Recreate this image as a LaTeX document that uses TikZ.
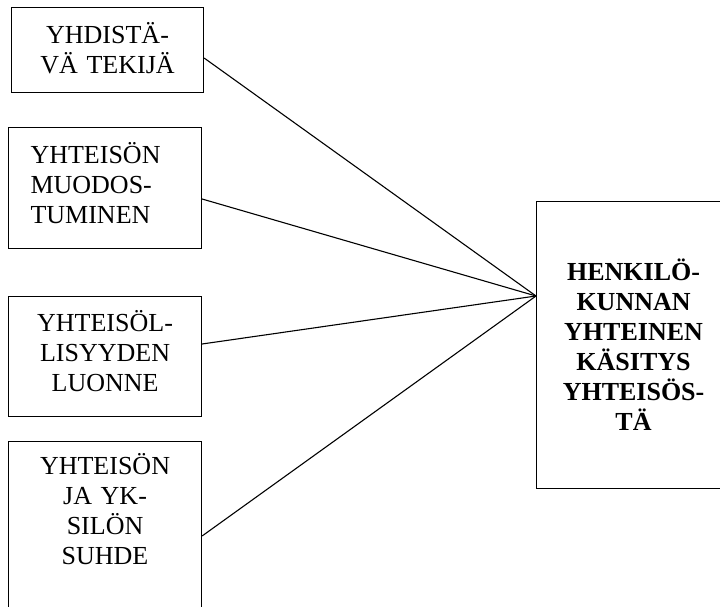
\documentclass[tikz,border=0pt]{standalone}
\usepackage{fontspec}
\setmainfont{Liberation Serif}
\usetikzlibrary{calc}
\begin{document}
\begin{tikzpicture}[x=1pt,y=-1pt,
  box/.style={draw, line width=1.1pt, inner sep=0pt, anchor=north west,
    font=\fontsize{26}{30}\selectfont},
  link/.style={line width=1.1pt}]
\useasboundingbox (0,0) rectangle (720,607);
\clip (0,0) rectangle (720,607);
\node[box, text width=192pt, align=center, text height=36pt, text depth=49pt] (b1) at (11,7)
  {YHDISTÄ-\\VÄ TEKIJÄ};
\node[box, text width=193pt, align=left, text height=36pt, text depth=85pt] (b2) at (8,127)
  {\hspace*{22pt}YHTEISÖN\\\hspace*{22pt}MUODOS-\\\hspace*{22pt}TUMINEN};
\node[box, text width=193pt, align=center, text height=35pt, text depth=85pt] (b3) at (8,296)
  {YHTEISÖL-\\LISYYDEN\\LUONNE};
\node[box, text width=193pt, align=center, text height=33pt, text depth=200pt] (b4) at (8,441)
  {YHTEISÖN\\JA YK-\\SILÖN\\SUHDE};
\node[box, text width=194pt, align=center, text height=79pt, text depth=208pt,
  font=\fontsize{26}{30}\selectfont\bfseries] (r) at (536,201)
  {HENKILÖ-\\KUNNAN\\YHTEINEN\\KÄSITYS\\YHTEISÖS-\\TÄ};
\coordinate (hub) at ([yshift=-95pt]r.north west);
\draw[link] ([yshift=-51pt]b1.north east) -- (hub);
\draw[link] ([yshift=-72pt]b2.north east) -- (hub);
\draw[link] ([yshift=-48pt]b3.north east) -- (hub);
\draw[link] ([yshift=-95pt]b4.north east) -- (hub);
\end{tikzpicture}
\end{document}
